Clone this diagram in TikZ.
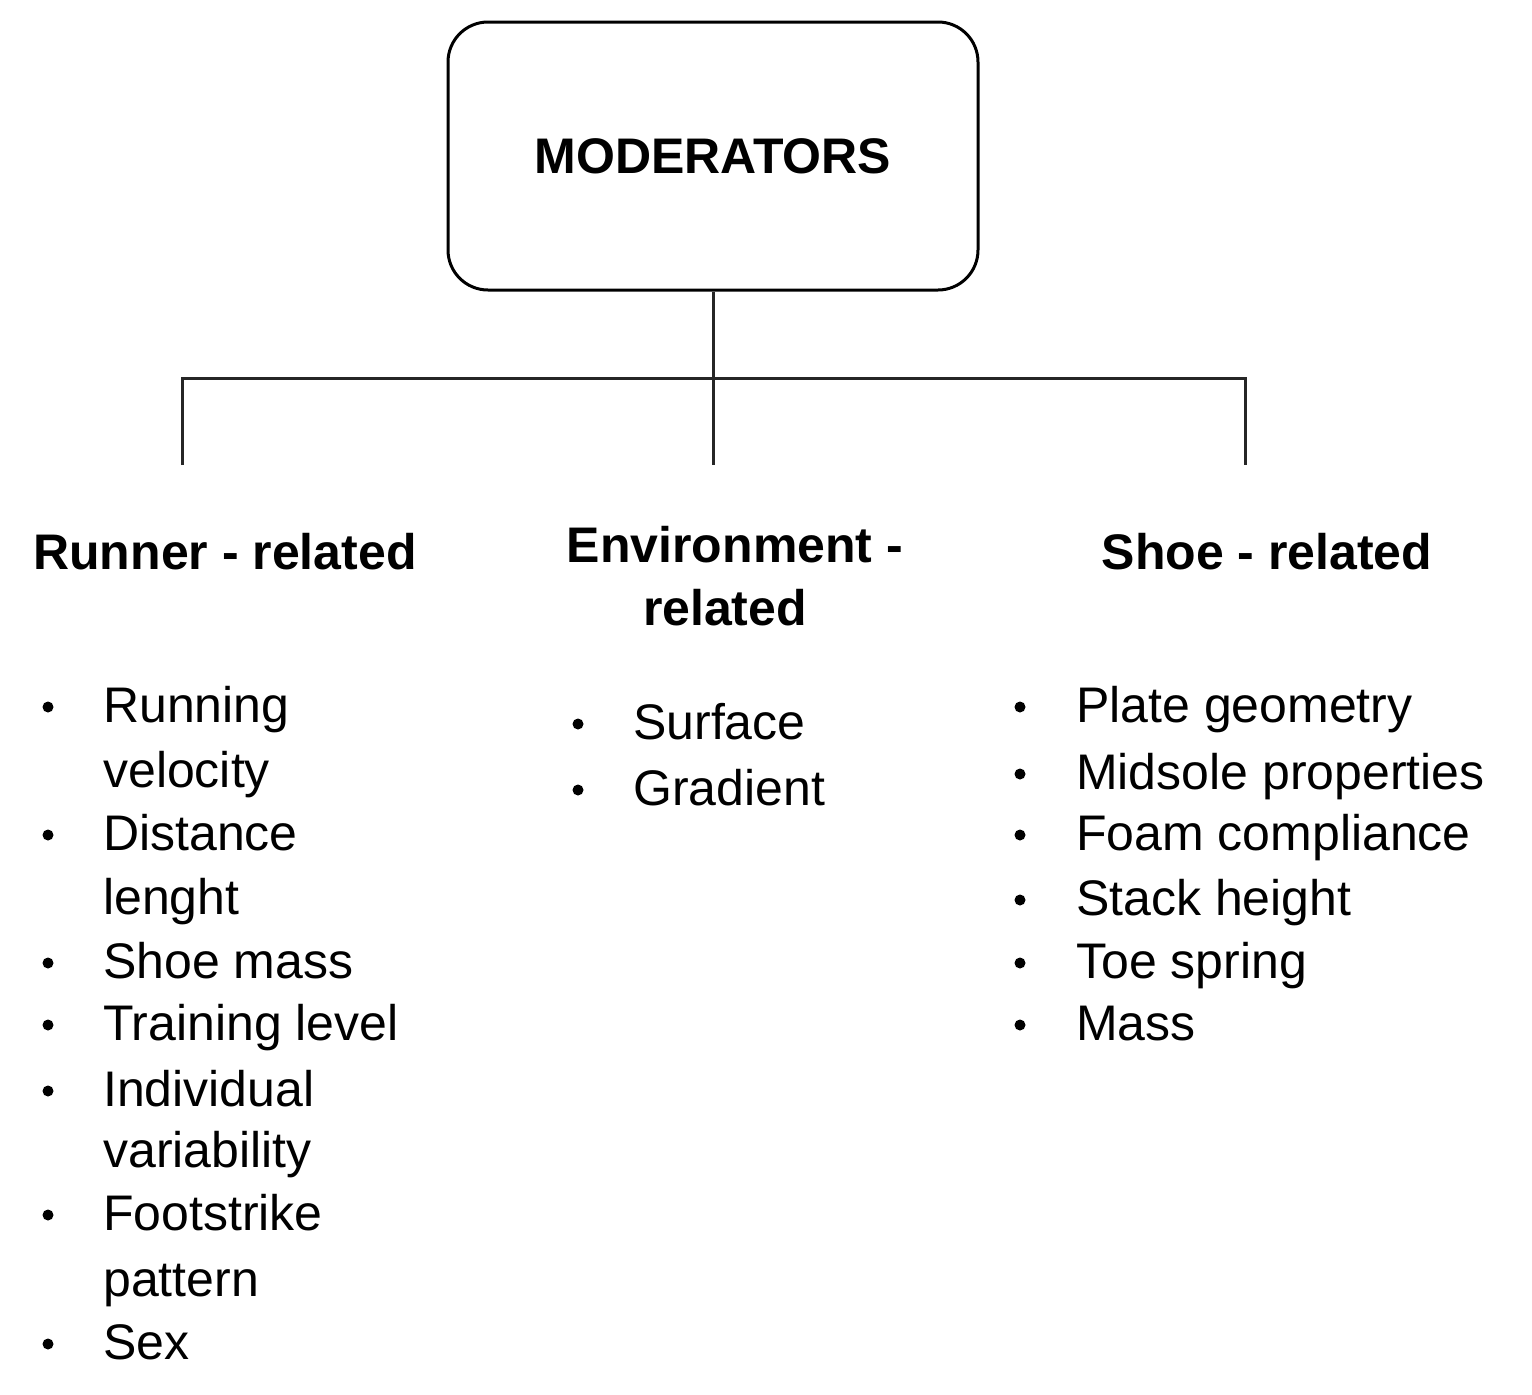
\documentclass[tikz,border=0pt]{standalone}
\usepackage{fontspec}
\setmainfont{Liberation Sans}
\begin{document}
\begin{tikzpicture}[x=1pt,y=-1pt,
  txt/.style={anchor=base west,inner sep=0pt,font=\fontsize{50}{60}\selectfont},
  hd/.style={anchor=base,inner sep=0pt,font=\fontsize{50}{60}\selectfont\bfseries},
  ln/.style={line width=3pt,black!85},
  bul/.style={fill=black,draw=none}]
\useasboundingbox (0,0) rectangle (1532,1395);
\node[draw,line width=3pt,rounded corners=40pt,minimum width=530pt,minimum height=268pt,
  font=\fontsize{50}{60}\selectfont\bfseries] (mod) at (713,156) {MODERATORS};
\coordinate (j) at (713,378);
\coordinate (l) at (182,378);
\coordinate (r) at (1245,378);
\coordinate (lb) at (182,465);
\coordinate (mb) at (713,465);
\coordinate (rb) at (1245,465);
\draw[ln] (mod.south) -- (mb);
\draw[ln] (lb) -- (l) -- (r) -- (rb);
\node[hd] (h1) at (225,569) {Runner - related};
\node[hd] (h2) at (735,562) {Environment -};
\node[hd] (h2b) at (725,625) {related};
\node[hd] (h3) at (1267,569) {Shoe - related};
% left list
\foreach \t/\y in {Running/703,velocity/768,Distance/831,lenght/895,Shoe mass/959,Training level/1021,Individual/1087,variability/1148,Footstrike/1211,pattern/1277,Sex/1340}
  \node[txt] at (103,\y+19) {\t};
\foreach \y in {707,835,963,1025,1091,1215,1344}
  \fill[bul] (48,\y) circle (5.5);
% middle
\foreach \t/\y in {Surface/720,Gradient/786}
  \node[txt] at (633,\y+19) {\t};
\foreach \y in {724,790}
  \fill[bul] (578,\y) circle (5.5);
% right
\foreach \t/\y in {Plate geometry/703,Midsole properties/770,Foam compliance/831,Stack height/896,Toe spring/959,Mass/1021}
  \node[txt] at (1076,\y+19) {\t};
\foreach \y in {707,774,835,900,963,1025}
  \fill[bul] (1020,\y) circle (5.5);
\end{tikzpicture}
\end{document}
